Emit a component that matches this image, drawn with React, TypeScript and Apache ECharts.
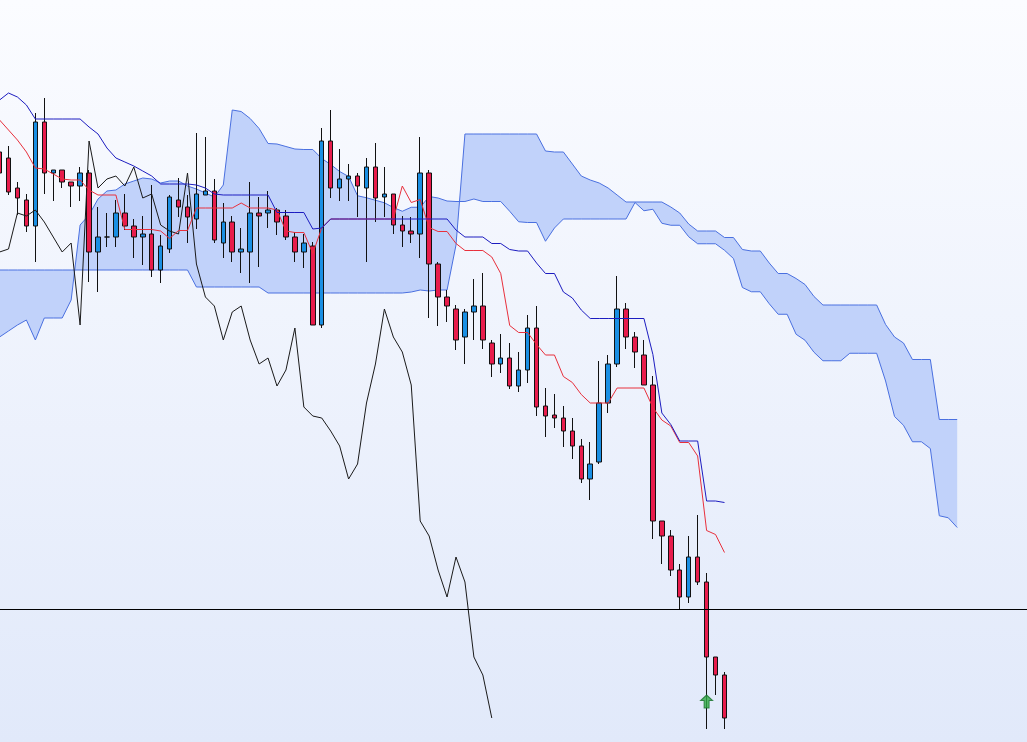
import React, { useEffect, useRef } from "react";
import * as echarts from "echarts";

// Bar numbering: first (partly visible) bar is -1
const firstBar = -1;

const candleOpen = [
  598, 592, 562, 550, 524, 628, 577, 580, 568, 564,
  577, 498, 513, 513, 537, 524, 513, 516, 480, 501,
  550, 543, 531, 555, 559, 507, 528, 498, 498, 537,
  537, 540, 534, 513, 498, 504, 425, 609, 562, 571,
  574, 562, 583, 553, 556, 525, 519, 516, 577, 486,
  453, 441, 413, 438, 444, 407, 386, 392, 364, 380,
  422, 344, 335, 332, 319, 304, 271, 288, 347, 386,
  441, 413, 395, 365, 229, 214, 180, 153, 193, 168,
  93, 75,
];
const candleClose = [
  577, 558, 552, 524, 628, 577, 580, 568, 564, 577,
  498, 513, 513, 537, 524, 513, 516, 480, 504, 553,
  543, 533, 556, 559, 510, 528, 498, 501, 537, 534,
  540, 528, 513, 498, 507, 425, 609, 562, 571, 574,
  564, 583, 552, 556, 525, 519, 516, 577, 486, 453,
  444, 410, 438, 444, 410, 386, 392, 364, 380, 422,
  343, 334, 332, 319, 304, 271, 286, 347, 386, 441,
  413, 398, 365, 229, 214, 180, 153, 193, 168, 93,
  75, 32,
];
const candleLow = [
  572, 555, 535, 518, 488, 556, 549, 562, 543, 549,
  468, 458, 503, 503, 520, 492, 485, 473, 467, 497,
  533, 507, 521, 555, 507, 492, 488, 477, 467, 483,
  522, 515, 510, 488, 482, 425, 422, 552, 549, 549,
  533, 488, 528, 533, 516, 503, 507, 492, 432, 424,
  428, 400, 386, 410, 401, 373, 377, 361, 358, 367,
  334, 313, 322, 303, 291, 267, 250, 286, 337, 383,
  401, 382, 365, 211, 186, 174, 141, 147, 165, 21,
  55, 21,
];
const candleHigh = [
  605, 604, 568, 556, 637, 652, 580, 580, 568, 583,
  580, 543, 537, 550, 556, 531, 534, 565, 515, 555,
  572, 555, 617, 613, 571, 547, 534, 522, 568, 553,
  559, 542, 540, 518, 516, 508, 622, 640, 601, 586,
  577, 592, 607, 583, 556, 534, 533, 613, 580, 488,
  460, 445, 441, 471, 477, 410, 416, 407, 398, 435,
  444, 362, 356, 344, 332, 311, 308, 389, 395, 474,
  447, 418, 410, 374, 229, 220, 186, 214, 235, 177,
  93, 78,
];

// Conversion line (red)
const tenkan = [
  630, 620, 610, 598, 582, 581, 576, 571, 570, 570,
  560, 555, 555, 555, 520.5, 520.5, 520.5, 520.5, 519, 511.5,
  519.5, 519.5, 542, 542, 542, 542, 542, 547, 542, 542,
  542, 540, 519, 517.5, 517.5, 496.5, 522, 531, 531, 531,
  531, 531, 531, 531, 531, 564, 547.5, 550.5, 522.5, 518.5,
  518.5, 506.5, 499.5, 499.5, 499.5, 493, 476.5, 424.5, 417.5, 417.5,
  405.5, 395, 395, 373.5, 367.5, 355.5, 347, 347, 347, 362,
  362, 362, 362, 342.5, 330, 324, 307.5, 307.5, 294, 219.5,
  215.5, 197.5,
];
// Base line (blue)
const kijun = [
  650, 657, 653, 645, 631, 631, 631, 631, 631, 631,
  623, 616, 602, 592, 588, 584, 579, 574, 566, 566,
  566, 566, 565, 562, 556, 555, 555, 555, 555, 555,
  555, 537.5, 537.5, 537.5, 537.5, 521, 522, 531, 531, 531,
  531, 531, 531, 531, 531, 531, 531, 531, 531, 531,
  531, 520, 513, 513, 513, 506.5, 506.5, 500.5, 499, 499,
  487, 476.5, 476.5, 458, 452, 440, 431.5, 431.5, 431.5, 431.5,
  431.5, 431.5, 431.5, 395.5, 337, 325.5, 309, 309, 309, 249,
  249, 247.5,
];
// Lagging span (black), starts at bar -1
const chikou = [
  498, 501, 537, 534, 540, 528, 513, 498, 507, 425,
  609, 562, 571, 574, 564, 583, 552, 556, 525, 519,
  516, 577, 486, 453, 444, 410, 438, 444, 410, 386,
  392, 364, 380, 422, 343, 334, 332, 319, 304, 271,
  286, 347, 386, 441, 413, 398, 365, 229, 214, 180,
  153, 193, 168, 93, 75, 32,
];
// Leading spans (cloud), start at bar -1, run 26 bars ahead
const spanA = [
  413, 419, 425, 430, 410, 432, 432, 432, 450, 525,
  535, 551, 559, 560, 566, 569, 572, 571, 567, 569,
  569, 564, 561, 557, 553, 565, 640, 638.5, 631.5, 621.5,
  606.5, 606, 603.5, 601, 600.5, 600.5, 591.5, 585.5, 578.5, 573.5,
  554.25, 552.25, 549.75, 547.25, 542.5, 538.75, 542.75, 542.75, 553.5, 552,
  549, 548.5, 548.5, 551, 548.5, 548.5, 548.5, 538.75, 528.25, 527.5,
  527.5, 508.75, 522, 531, 531, 531, 531, 531, 531, 531,
  531, 547.5, 539.25, 540.75, 526.75, 524.75, 524.75, 513.25, 506.25, 506.25,
  506.25, 499.75, 491.5, 462.5, 458.25, 458.25, 446.25, 435.75, 435.75, 415.75,
  409.75, 397.75, 389.25, 389.25, 389.25, 396.75, 396.75, 396.75, 396.75, 369,
  333.5, 324.75, 308.25, 308.25, 301.5, 234.25, 232.25, 222.5,
];
const spanB = [
  480, 480, 480, 480, 480, 480, 480, 480, 480, 480,
  480, 480, 480, 480, 480, 480, 480, 480, 480, 480,
  480, 480, 463, 463, 463, 463, 463, 463, 463, 463,
  457, 457, 457, 457, 457, 457, 457, 457, 457, 457,
  457, 457, 457, 457, 457, 457, 458, 460, 459, 460,
  460, 505, 616, 616, 616, 616, 616, 616, 616, 616,
  616, 599, 598, 598, 586, 574, 570, 567, 562, 555,
  548, 548, 548, 548, 548, 543, 537, 526, 519, 519,
  519, 512.5, 512.5, 500.5, 499, 499, 487, 476.5, 476.5, 471.5,
  465.5, 453.5, 445, 445, 445, 445, 445, 445, 445, 425.5,
  413, 407, 390.5, 390.5, 390.5, 330.5, 330.5, 330.5,
];

const levelLines = [141];
const signalBars = [78];
const signalValues = [48.5];

export default function App() {
  const ref = useRef<HTMLDivElement>(null);

  useEffect(() => {
    const chart = echarts.init(ref.current as HTMLDivElement, null, { renderer: "svg" });

    const candles = candleOpen.map((o, k) => [firstBar + k, o, candleClose[k], candleLow[k], candleHigh[k]]);
    const toLine = (arr: number[]) => arr.map((v, k) => [firstBar + k, v]);

    const option: any = {
      animation: false,
      backgroundColor: new echarts.graphic.LinearGradient(0, 0, 0, 1, [
        { offset: 0, color: "#fbfcff" },
        { offset: 1, color: "#e1e9fa" },
      ]),
      grid: { left: 0, right: 0, top: 0, bottom: 0 },
      xAxis: {
        type: "value",
        min: -0.95,
        max: 113.8,
        show: false,
        splitLine: { show: false },
      },
      yAxis: {
        type: "value",
        min: 8,
        max: 750,
        show: false,
        splitLine: { show: false },
      },
      series: [
        {
          type: "custom",
          silent: true,
          clip: true,
          z: 1,
          data: [[50, 400]],
          renderItem: (_params: any, api: any) => {
            const pts: number[][] = [];
            for (let k = 0; k < spanA.length; k++) pts.push(api.coord([firstBar + k, spanA[k]]));
            for (let k = spanB.length - 1; k >= 0; k--) pts.push(api.coord([firstBar + k, spanB[k]]));
            return {
              type: "polygon",
              shape: { points: pts },
              style: { fill: "#c1d2fa", stroke: "none" },
            };
          },
        },
        {
          type: "line",
          data: toLine(spanA),
          symbol: "none",
          z: 2,
          silent: true,
          lineStyle: { color: "#4a70e0", width: 1 },
        },
        {
          type: "line",
          data: toLine(spanB),
          symbol: "none",
          z: 2,
          silent: true,
          lineStyle: { color: "#4a70e0", width: 1 },
        },
        {
          type: "candlestick",
          data: candles,
          barWidth: 5,
          z: 3,
          itemStyle: {
            color: "#1a8fe3",
            color0: "#e81c4c",
            borderColor: "#111111",
            borderColor0: "#111111",
            borderWidth: 1,
          },
          markLine: {
            silent: true,
            symbol: ["none", "none"],
            label: { show: false },
            lineStyle: { color: "#000000", width: 1, type: "solid" },
            data: levelLines.map((v) => ({ yAxis: v })),
          },
        },
        {
          type: "line",
          data: toLine(chikou),
          symbol: "none",
          z: 4,
          silent: true,
          lineStyle: { color: "#1a1a1a", width: 1 },
        },
        {
          type: "line",
          data: toLine(tenkan),
          symbol: "none",
          z: 4,
          silent: true,
          lineStyle: { color: "#e8303c", width: 1 },
        },
        {
          type: "line",
          data: toLine(kijun),
          symbol: "none",
          z: 4,
          silent: true,
          lineStyle: { color: "#1c1cc0", width: 1 },
        },
        {
          type: "scatter",
          z: 5,
          silent: true,
          data: signalBars.map((b, k) => [b, signalValues[k]]),
          symbol: "path://M6,0 L12,5.5 L8.5,5.5 L8.5,13 L3.5,13 L3.5,5.5 L0,5.5 Z",
          symbolSize: [12, 13],
          itemStyle: { color: "#2faa44", borderColor: "#17702a", borderWidth: 1 },
        },
      ],
    };

    chart.setOption(option);
    return () => chart.dispose();
  }, []);

  return (
    <div
      ref={ref}
      style={{ position: "absolute", left: 0, top: 0, width: 1027, height: 742 }}
    />
  );
}
